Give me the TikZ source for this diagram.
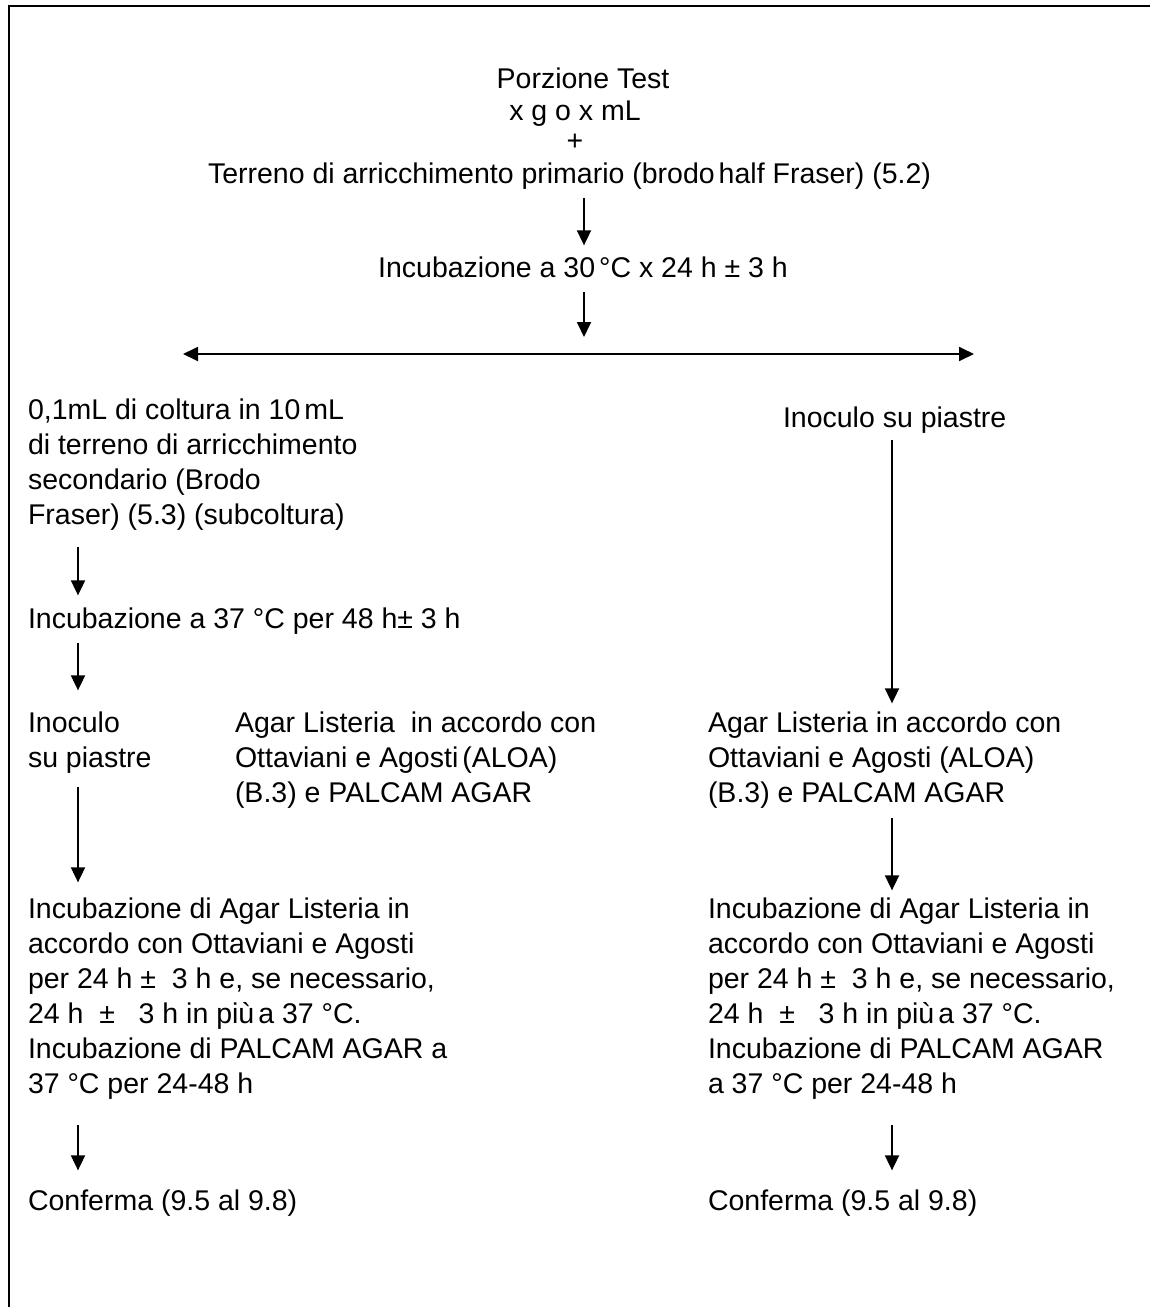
\documentclass[tikz,border=0pt]{standalone}
\usepackage{fontspec}
\setmainfont{Liberation Sans}
\usetikzlibrary{arrows.meta}
\newcommand\mylines[1]{\vtop{\baselineskip=35pt\lineskiplimit=-100pt #1}}
\begin{document}
\begin{tikzpicture}[x=1pt,y=-1pt,
  txt/.style={inner sep=0pt, outer sep=0pt, font=\fontsize{28.5}{35}\selectfont},
  arr/.style={line width=1.8pt, -{Triangle[width=14pt,length=15pt]}},
  darr/.style={line width=1.8pt, {Triangle[width=14pt,length=15pt]}-{Triangle[width=14pt,length=15pt]}},
  frame/.style={line width=2.5pt}]
\useasboundingbox (0,0) rectangle (1150,1307);
\draw[frame] (9,1307) -- (9,6) -- (1150,6);
% column coordinates
\coordinate (colM) at (584,0);
\coordinate (colL) at (78,0);
\coordinate (colR) at (892,0);
\coordinate (splitL) at (183,354);
\coordinate (splitR) at (974,354);
% top
\node[txt, anchor=base] (porz) at (583,88) {Porzione Test};
\node[txt, anchor=base] (qty) at (575,120) {x g o x mL};
\node[txt, anchor=base] (plus) at (575,150) {+};
\node[txt, anchor=base west] (terreno) at (208,183) {Terreno di arricchimento primario (brodo\kern4pt half Fraser) (5.2)};
\node[txt, anchor=base] (inc30) at (583,277) {Incubazione a 30\kern4pt°C x 24 h ± 3 h};
% left column
\node[txt, anchor=base west] (sub) at (28,419) {\mylines{\hbox{0,1mL di coltura in 10\kern4pt mL}\hbox{di terreno di arricchimento}\hbox{secondario (Brodo}\hbox{Fraser) (5.3) (subcoltura)}}};
\node[txt, anchor=base west] (inc37) at (28,628) {Incubazione a 37 °C per 48 h± 3 h};
\node[txt, anchor=base west] (inocL) at (28,732) {\mylines{\hbox{Inoculo}\hbox{su piastre}}};
\node[txt, anchor=base west] (agarL) at (235,732) {\mylines{\hbox{Agar Listeria\ \ in accordo con}\hbox{Ottaviani e Agosti\kern4pt(ALOA)}\hbox{(B.3) e PALCAM AGAR}}};
\node[txt, anchor=base west] (incL) at (28,918) {\mylines{\hbox{Incubazione di Agar Listeria in}\hbox{accordo con Ottaviani e Agosti}\hbox{per 24 h ± \ 3 h e, se necessario,}\hbox{24 h \ ± \ \ 3 h in più\kern4pt a 37 °C.}\hbox{Incubazione di PALCAM AGAR a}\hbox{37 °C per 24-48 h}}};
\node[txt, anchor=base west] (confL) at (28,1210) {Conferma (9.5 al 9.8)};
% right column
\node[txt, anchor=base west] (inocR) at (783,427) {Inoculo su piastre};
\node[txt, anchor=base west] (agarR) at (708,732) {\mylines{\hbox{Agar Listeria in accordo con}\hbox{Ottaviani e Agosti (ALOA)}\hbox{(B.3) e PALCAM AGAR}}};
\node[txt, anchor=base west] (incR) at (708,918) {\mylines{\hbox{Incubazione di Agar Listeria in}\hbox{accordo con Ottaviani e Agosti}\hbox{per 24 h ± \ 3 h e, se necessario,}\hbox{24 h \ ± \ \ 3 h in più\kern4pt a 37 °C.}\hbox{Incubazione di PALCAM AGAR}\hbox{a 37 °C per 24-48 h}}};
\node[txt, anchor=base west] (confR) at (708,1210) {Conferma (9.5 al 9.8)};
% connectors
\draw[arr, shorten <=9pt, shorten >=11pt] (terreno.south -| colM) -- (inc30.north -| colM);
\draw[arr, shorten <=15pt, shorten >=17pt] (inc30.south -| colM) -- (splitL -| colM);
\draw[darr] (splitL) -- (splitR);
\draw[arr, shorten <=17pt, shorten >=12pt] (sub.south -| colL) -- (inc37.north -| colL);
\draw[arr, shorten <=9pt, shorten >=21pt] (inc37.south -| colL) -- (inocL.north -| colL);
\draw[arr, shorten <=14pt, shorten >=15pt] (inocL.south -| colL) -- (incL.north -| colL);
\draw[arr, shorten <=26pt, shorten >=19pt] (incL.south -| colL) -- (confL.north -| colL);
\draw[arr, shorten <=7pt, shorten >=8pt] (inocR.south -| colR) -- (agarR.north -| colR);
\draw[arr, shorten <=10pt, shorten >=7pt] (agarR.south -| colR) -- (incR.north -| colR);
\draw[arr, shorten <=26pt, shorten >=19pt] (incR.south -| colR) -- (confR.north -| colR);
\end{tikzpicture}
\end{document}
